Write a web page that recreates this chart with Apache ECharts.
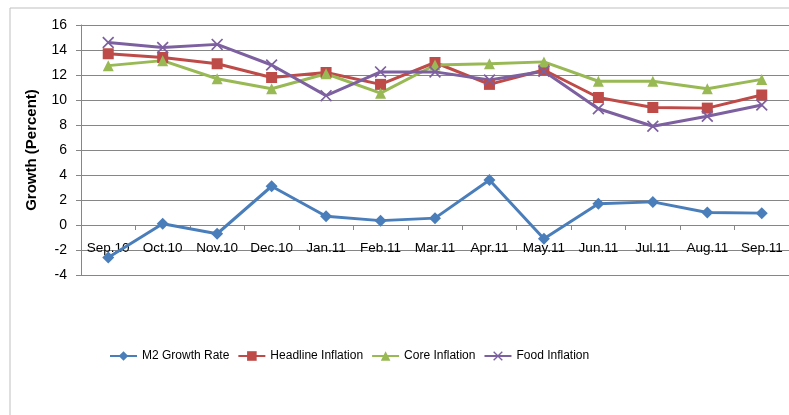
<!DOCTYPE html>
<html>
<head>
    <meta charset="utf-8">
    <style>
        body { margin: 0; background-color: #fff; }
        #main { width: 789px; height: 415px; }
    </style>
</head>
<body>
    <div id="main"></div>
    <script src="https://cdn.jsdelivr.net/npm/echarts@6/dist/echarts.min.js"></script>
    <script type="text/javascript">
        var months = ['Sep.10', 'Oct.10', 'Nov.10', 'Dec.10', 'Jan.11', 'Feb.11', 'Mar.11',
            'Apr.11', 'May.11', 'Jun.11', 'Jul.11', 'Aug.11', 'Sep.11'];
        var m2Growth = [-2.6, 0.1, -0.7, 3.1, 0.7, 0.35, 0.55, 3.6, -1.1, 1.7, 1.85, 1.0, 0.95];
        var headline = [13.7, 13.4, 12.9, 11.8, 12.2, 11.25, 13.0, 11.25, 12.4, 10.2, 9.4, 9.35, 10.4];
        var core = [12.75, 13.15, 11.7, 10.9, 12.1, 10.55, 12.8, 12.9, 13.05, 11.5, 11.5, 10.9, 11.65];
        var food = [14.6, 14.2, 14.45, 12.8, 10.35, 12.25, 12.25, 11.6, 12.3, 9.3, 7.9, 8.7, 9.6];

        var font = 'Liberation Sans';
        var xMark = 'path://M0,1L1,0L5,4L9,0L10,1L6,5L10,9L9,10L5,6L1,10L0,9L4,5Z';

        var myChart = echarts.init(document.getElementById('main'));

        function lineSeries(name, data, color, symbol, size) {
            return {
                name: name,
                type: 'line',
                data: data,
                symbol: symbol,
                symbolSize: size,
                showAllSymbol: true,
                lineStyle: { color: color, width: 3 },
                itemStyle: { color: color },
                animation: false
            };
        }

        var option = {
            backgroundColor: '#fff',
            graphic: [{
                type: 'rect',
                shape: { x: 10, y: 8, width: 800, height: 420 },
                style: { fill: 'none', stroke: '#bfbfbf', lineWidth: 1 },
                silent: true
            }],
            grid: { left: 81, top: 25, width: 712, height: 250 },
            legend: {
                left: 104,
                top: 345,
                itemWidth: 27,
                itemHeight: 12,
                itemGap: 8,
                textStyle: { fontFamily: font, fontSize: 12, color: '#000' },
                data: ['M2 Growth Rate', 'Headline Inflation', 'Core Inflation', 'Food Inflation']
            },
            xAxis: {
                type: 'category',
                data: months,
                boundaryGap: true,
                axisLine: { onZero: true, lineStyle: { color: '#868686', width: 1 } },
                axisTick: { show: true, length: 5, lineStyle: { color: '#868686' } },
                axisLabel: { margin: -34, interval: 0, fontFamily: font, fontSize: 13.5, color: '#000' },
                splitLine: { show: false }
            },
            yAxis: {
                type: 'value',
                min: -4,
                max: 16,
                interval: 2,
                name: 'Growth (Percent)',
                nameLocation: 'middle',
                nameRotate: 90,
                nameGap: 42,
                nameTextStyle: { fontFamily: font, fontSize: 15, fontWeight: 'bold', color: '#000' },
                axisLine: { show: true, lineStyle: { color: '#868686', width: 1 } },
                axisTick: { show: true, length: 5, lineStyle: { color: '#868686' } },
                axisLabel: { margin: 14, fontFamily: font, fontSize: 14, color: '#000' },
                splitLine: { show: true, lineStyle: { color: '#868686', width: 1 } }
            },
            series: [
                lineSeries('M2 Growth Rate', m2Growth, '#4a7ebb', 'diamond', 12),
                lineSeries('Headline Inflation', headline, '#be4b48', 'rect', 11),
                lineSeries('Core Inflation', core, '#98b954', 'triangle', 11),
                lineSeries('Food Inflation', food, '#7d60a0', xMark, 12)
            ]
        };

        myChart.setOption(option);
    </script>
</body>
</html>
